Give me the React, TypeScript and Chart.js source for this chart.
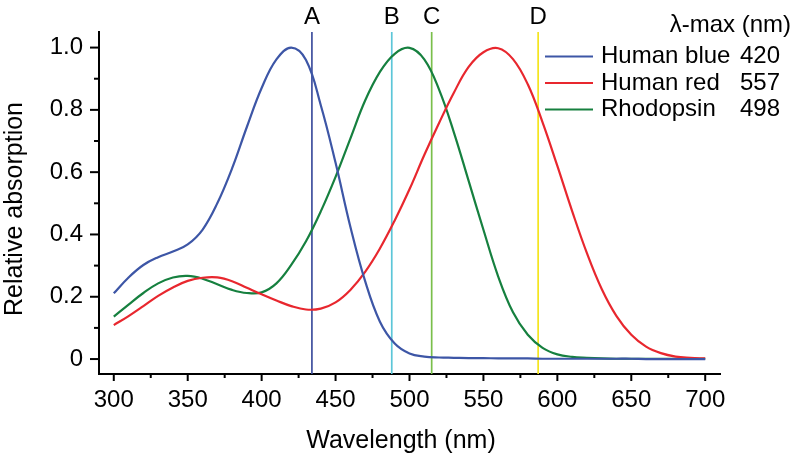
import React, { useEffect, useRef } from 'react';
import { Chart, registerables } from 'chart.js';

Chart.register(...registerables);

const FONT = "'Liberation Sans', Arial, Helvetica, sans-serif";

const wavelengths = [
  300, 310, 320, 330, 340, 350, 360, 370, 380, 390,
  400, 410, 420, 430, 440, 450, 460, 470, 480, 490,
  500, 510, 520, 530, 540, 550, 560, 570, 580, 590,
  600, 610, 620, 630, 640, 650, 660, 670, 680, 690, 700,
];

const humanBlue = [
  0.211, 0.262, 0.302, 0.327, 0.345, 0.368, 0.415, 0.5, 0.612, 0.745,
  0.87, 0.962, 1.0, 0.96, 0.815, 0.63, 0.425, 0.25, 0.12, 0.05,
  0.018, 0.008, 0.005, 0.004, 0.003, 0.003, 0.002, 0.002, 0.002, 0.001,
  0.001, 0.001, 0.001, 0.001, 0.001, 0.001, 0.0, 0.0, 0.0, 0.0, 0.0,
];

const humanRed = [
  0.109, 0.138, 0.17, 0.203, 0.23, 0.251, 0.261, 0.262, 0.25, 0.229,
  0.208, 0.188, 0.17, 0.159, 0.162, 0.182, 0.222, 0.28, 0.355, 0.445,
  0.545, 0.655, 0.758, 0.855, 0.938, 0.985, 0.998, 0.963, 0.882, 0.76,
  0.62, 0.475, 0.34, 0.225, 0.138, 0.078, 0.04, 0.019, 0.008, 0.004, 0.002,
];

const rhodopsin = [
  0.136, 0.175, 0.212, 0.243, 0.262, 0.267, 0.258, 0.24, 0.222, 0.212,
  0.214, 0.243, 0.302, 0.378, 0.474, 0.585, 0.708, 0.83, 0.922, 0.98,
  0.999, 0.962, 0.865, 0.728, 0.572, 0.415, 0.265, 0.15, 0.078, 0.036,
  0.015, 0.007, 0.004, 0.002, 0.001, 0.001, 0.001, 0.001, 0.001, 0.001, 0.001,
];

const seriesNames = ['Human blue', 'Human red', 'Rhodopsin'];
const lambdaMax = ['420', '557', '498'];
const seriesColors = ['#3d56a6', '#e8272e', '#16803f'];

const markerWavelengths = [434, 488, 515, 587];
const markerLabels = ['A', 'B', 'C', 'D'];
const markerColors = ['#3f4f9e', '#5cc6d8', '#7abf4b', '#f4e51e'];

const legendTitle = '\u03bb-max (nm)';
const xTitle = 'Wavelength (nm)';
const yTitle = 'Relative absorption';

export default function App() {
  const ref = useRef<HTMLCanvasElement>(null);

  useEffect(() => {
    if (!ref.current) return;
    const pts = (vals: number[]) => wavelengths.map((x, i) => ({ x, y: vals[i] }));
    const series = [humanBlue, humanRed, rhodopsin];

    const markerPlugin = {
      id: 'markers',
      beforeDatasetsDraw(chart: any) {
        const { ctx, chartArea, scales } = chart;
        ctx.save();
        markerWavelengths.forEach((w, i) => {
          const px = scales.x.getPixelForValue(w);
          ctx.strokeStyle = markerColors[i];
          ctx.lineWidth = 1.7;
          ctx.beginPath();
          ctx.moveTo(px, chartArea.top);
          ctx.lineTo(px, chartArea.bottom);
          ctx.stroke();
          ctx.fillStyle = '#000';
          ctx.font = `24px ${FONT}`;
          ctx.textAlign = 'center';
          ctx.textBaseline = 'middle';
          ctx.fillText(markerLabels[i], px, chartArea.top - 15);
        });
        ctx.restore();
      },
    };

    const tickPlugin = {
      id: 'tickMarks',
      afterDraw(chart: any) {
        const { ctx, scales } = chart;
        ctx.save();
        ctx.strokeStyle = '#000';
        ctx.lineWidth = 2;
        const ys = scales.y;
        ys.ticks.forEach((t: any) => {
          const py = ys.getPixelForValue(t.value);
          const major = t.label !== '';
          const len = major ? 9 : 5;
          ctx.beginPath();
          ctx.moveTo(ys.right - len, py);
          ctx.lineTo(ys.right, py);
          ctx.stroke();
        });
        const xs = scales.x;
        xs.ticks.forEach((t: any) => {
          const px = xs.getPixelForValue(t.value);
          const major = t.label !== '';
          const len = major ? 7 : 4;
          ctx.beginPath();
          ctx.moveTo(px, xs.top);
          ctx.lineTo(px, xs.top + len);
          ctx.stroke();
        });
        // axis titles
        ctx.fillStyle = '#000';
        ctx.font = `25px ${FONT}`;
        ctx.textAlign = 'center';
        ctx.textBaseline = 'middle';
        ctx.fillText(xTitle, 401, 441);
        ctx.translate(15, 209);
        ctx.rotate(-Math.PI / 2);
        ctx.fillText(yTitle, 0, 0);
        ctx.restore();
      },
    };

    const legendPlugin = {
      id: 'customLegend',
      afterDraw(chart: any) {
        const { ctx } = chart;
        ctx.save();
        ctx.font = `24px ${FONT}`;
        ctx.fillStyle = '#000';
        ctx.textBaseline = 'middle';
        ctx.textAlign = 'right';
        ctx.fillText(legendTitle, 791, 25);
        ctx.textAlign = 'left';
        const rows = [56.5, 83, 109.5];
        seriesNames.forEach((name, i) => {
          ctx.strokeStyle = seriesColors[i];
          ctx.lineWidth = 2;
          ctx.beginPath();
          ctx.moveTo(545, rows[i]);
          ctx.lineTo(593, rows[i]);
          ctx.stroke();
          ctx.fillText(name, 601, rows[i]);
          ctx.fillText(lambdaMax[i], 740, rows[i]);
        });
        ctx.restore();
      },
    };

    const chart = new Chart(ref.current, {
      type: 'line',
      data: {
        datasets: series.map((vals, i) => ({
          label: seriesNames[i],
          data: pts(vals),
          borderColor: seriesColors[i],
          backgroundColor: seriesColors[i],
          borderWidth: 2.2,
          pointRadius: 0,
          tension: 0.4,
          fill: false,
        })),
      },
      options: {
        animation: false,
        responsive: true,
        maintainAspectRatio: false,
        layout: { padding: { top: 32, right: 80, left: 0, bottom: 0 } },
        plugins: { legend: { display: false }, tooltip: { enabled: false } },
        scales: {
          x: {
            type: 'linear',
            min: 290,
            max: 710,
            afterFit: (s: any) => { s.height = 89; },
            border: { display: true, color: '#000', width: 2 },
            grid: { display: false, drawTicks: false },
            ticks: {
              stepSize: 25,
              includeBounds: false,
              autoSkip: false,
              maxRotation: 0,
              padding: 12,
              color: '#000',
              font: { family: FONT, size: 24 },
              callback: (v: any) => (Math.round(v) % 50 === 0 ? String(Math.round(v)) : ''),
            },
            title: { display: false, text: xTitle },
          },
          y: {
            type: 'linear',
            min: -0.048,
            max: 1.05,
            afterFit: (s: any) => { s.width = 99; },
            border: { display: true, color: '#000', width: 2 },
            grid: { display: false, drawTicks: false },
            ticks: {
              stepSize: 0.1,
              includeBounds: false,
              autoSkip: false,
              padding: 16,
              color: '#000',
              font: { family: FONT, size: 24 },
              callback: (v: any) => {
                const n = Math.round(v * 10);
                if (n === 0) return '0';
                return n % 2 === 0 ? (n / 10).toFixed(1) : '';
              },
            },
            title: { display: false, text: yTitle },
          },
        },
      },
      plugins: [markerPlugin, tickPlugin, legendPlugin],
    });
    return () => chart.destroy();
  }, []);

  return (
    <div style={{ position: 'fixed', left: 0, top: 0, width: 800, height: 463, background: '#fff' }}>
      <canvas ref={ref} />
    </div>
  );
}
